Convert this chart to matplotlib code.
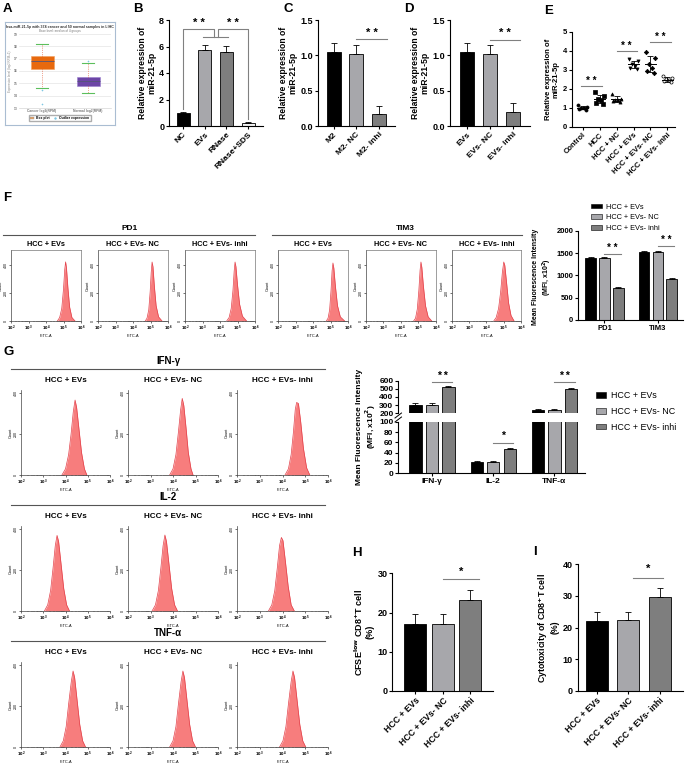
import numpy as np
import matplotlib.pyplot as plt
from matplotlib.lines import Line2D
from matplotlib.patches import Patch

plt.rcParams['font.family'] = ['Liberation Sans', 'DejaVu Sans']
plt.rcParams['font.weight'] = 'bold'
plt.rcParams['axes.labelweight'] = 'bold'
plt.rcParams['mathtext.default'] = 'bf'

# ---------------- data ----------------
# A: box plot of hsa-miR-21-5p (log2 RPM)
a_groups = ['Cancer log2(RPM)', 'Normal log2(RPM)']
a_med = [16.8, 15.2]
a_q1 = [16.2, 14.75]
a_q3 = [17.25, 15.55]
a_low = [14.65, 14.25]
a_high = [18.2, 16.65]
a_fliers = [[14.45, 13.3], [16.8]]

# B
b_labels = ['NC', 'EVs', 'RNase', 'RNase+SDS']
b_values = [1.0, 5.7, 5.6, 0.2]
b_err = [0.08, 0.45, 0.45, 0.08]

# C
c_labels = ['M2', 'M2- NC', 'M2- inhi']
c_values = [1.05, 1.02, 0.17]
c_err = [0.12, 0.12, 0.11]

# D
d_labels = ['EVs', 'EVs- NC', 'EVs- inhi']
d_values = [1.05, 1.02, 0.2]
d_err = [0.12, 0.12, 0.12]

# E
e_labels = ['Control', 'HCC', 'HCC + NC', 'HCC + EVs', 'HCC + EVs- NC', 'HCC + EVs- inhi']
e_control = [1.12, 1.05, 1.0, 0.98, 0.95, 0.9]
e_hcc = [1.8, 1.62, 1.45, 1.38, 1.25, 1.22]
e_hcc_nc = [1.72, 1.48, 1.42, 1.4, 1.36, 1.3]
e_hcc_evs = [3.55, 3.45, 3.3, 3.2, 3.1, 3.05]
e_evs_nc = [3.92, 3.6, 3.3, 3.1, 2.92, 2.85]
e_evs_inhi = [2.65, 2.55, 2.5, 2.45, 2.4, 2.35]

# F / G / H / I shared groups
groups3 = ['HCC + EVs', 'HCC + EVs- NC', 'HCC + EVs- inhi']

# F: flow histograms (log10 FITC-A, count)
pd1_evs = ([4.65, 4.78, 4.90, 5.00, 5.07, 5.12, 5.17, 5.25, 5.35, 5.48, 5.66],
           [0, 25, 90, 230, 370, 425, 380, 240, 100, 25, 0])
pd1_nc = ([4.70, 4.80, 4.90, 4.98, 5.04, 5.09, 5.14, 5.22, 5.32, 5.46, 5.66],
          [0, 20, 80, 210, 350, 424, 390, 250, 110, 30, 0])
pd1_inhi = ([4.38, 4.52, 4.64, 4.74, 4.81, 4.86, 4.91, 5.00, 5.12, 5.28, 5.52],
            [0, 25, 90, 220, 360, 424, 390, 260, 120, 35, 0])
tim3_evs = ([4.76, 4.86, 4.95, 5.03, 5.09, 5.14, 5.19, 5.28, 5.40, 5.56, 5.81],
            [0, 20, 80, 220, 360, 417, 380, 250, 110, 30, 0])
tim3_nc = ([4.72, 4.83, 4.93, 5.02, 5.09, 5.14, 5.19, 5.28, 5.40, 5.55, 5.76],
           [0, 20, 85, 220, 365, 424, 385, 250, 110, 30, 0])
tim3_inhi = ([4.42, 4.56, 4.70, 4.82, 4.92, 5.00, 5.06, 5.16, 5.28, 5.42, 5.60],
             [0, 25, 90, 210, 350, 424, 400, 280, 130, 40, 0])

# F: MFI bars
f_markers = ['PD1', 'TIM3']
f_evs = [1390, 1520]
f_evs_nc = [1380, 1530]
f_evs_inhi = [720, 910]
f_err_evs = [25, 30]
f_err_nc = [25, 25]
f_err_inhi = [30, 25]

# G: flow histograms
ifn_evs = ([3.84, 4.00, 4.14, 4.25, 4.35, 4.43, 4.50, 4.60, 4.72, 4.85, 4.96],
           [0, 30, 100, 200, 310, 367, 330, 230, 110, 30, 0])
ifn_nc = ([3.85, 4.00, 4.13, 4.24, 4.34, 4.41, 4.48, 4.58, 4.68, 4.80, 4.89],
          [0, 30, 100, 210, 320, 375, 340, 230, 110, 30, 0])
ifn_inhi = ([4.11, 4.26, 4.38, 4.48, 4.56, 4.62, 4.70, 4.80, 4.92, 5.06, 5.20],
            [0, 30, 100, 210, 320, 355, 350, 260, 130, 35, 0])
il2_evs = ([3.05, 3.20, 3.33, 3.44, 3.54, 3.62, 3.69, 3.80, 3.92, 4.05, 4.18],
           [0, 30, 100, 210, 320, 370, 340, 230, 110, 30, 0])
il2_nc = ([3.07, 3.22, 3.35, 3.46, 3.56, 3.64, 3.71, 3.82, 3.94, 4.07, 4.20],
          [0, 30, 100, 210, 320, 372, 340, 230, 110, 30, 0])
il2_inhi = ([3.38, 3.53, 3.66, 3.77, 3.87, 3.95, 4.02, 4.13, 4.25, 4.38, 4.52],
            [0, 30, 100, 210, 320, 360, 345, 240, 120, 30, 0])
tnf_evs = ([3.75, 3.90, 4.03, 4.14, 4.26, 4.34, 4.41, 4.52, 4.64, 4.77, 4.90],
           [0, 30, 100, 210, 320, 372, 340, 230, 110, 30, 0])
tnf_nc = ([3.85, 4.00, 4.13, 4.24, 4.36, 4.44, 4.51, 4.62, 4.74, 4.87, 5.00],
          [0, 30, 100, 210, 320, 372, 340, 230, 110, 30, 0])
tnf_inhi = ([3.87, 4.02, 4.15, 4.26, 4.38, 4.46, 4.53, 4.64, 4.76, 4.89, 5.02],
            [0, 30, 100, 210, 320, 372, 340, 230, 110, 30, 0])

# G: MFI bars (broken axis)
g_cytokines = ['IFN-γ', 'IL-2', 'TNF-α']
g_evs = [300, 21, 240]
g_evs_nc = [300, 21, 240]
g_evs_inhi = [520, 47, 495]
g_err_evs = [22, 2.5, 15]
g_err_nc = [22, 2.5, 15]
g_err_inhi = [20, 2.5, 20]

# H / I
h_values = [17.2, 17.2, 23.3]
h_err = [2.5, 2.5, 2.4]
i_values = [22.2, 22.3, 29.7]
i_err = [2.6, 2.6, 2.7]

# ---------------- layout helpers ----------------
W, H = 685, 767
fig = plt.figure(figsize=(W / 100, H / 100), dpi=100)

BLACK, LIGHT, DARK = '#000000', '#a7a7ab', '#7e7e7e'
SIG = '#808080'


def px_axes(x0, y0, x1, y1):
    return fig.add_axes([x0 / W, 1 - y1 / H, (x1 - x0) / W, (y1 - y0) / H])


def px_text(x, y, s, **kw):
    fig.text(x / W, 1 - y / H, s, **kw)


def px_line(x0, x1, y, color='#555555', lw=0.8):
    fig.add_artist(Line2D([x0 / W, x1 / W], [1 - y / H, 1 - y / H], color=color, lw=lw))


def style_axes(ax, ylim, yticks, xlim, fs=6.5):
    for s in ['top', 'right']:
        ax.spines[s].set_visible(False)
    for s in ['left', 'bottom']:
        ax.spines[s].set_linewidth(0.8)
    ax.set_ylim(ylim)
    ax.set_yticks(yticks)
    ax.set_xlim(xlim)
    ax.tick_params(length=2.5, width=0.8, labelsize=fs, pad=1)


def bars(ax, x, vals, errs, colors, width):
    ax.bar(x, vals, width=width, color=colors, edgecolor='black', linewidth=0.6, zorder=2)
    ax.errorbar(x, vals, yerr=[np.zeros(len(vals)), errs], fmt='none', ecolor='black',
                elinewidth=0.6, capsize=2, capthick=0.6, zorder=3)


def sig(ax, x0, x1, y, ty, text, fs=8):
    ax.plot([x0, x1], [y, y], color=SIG, lw=0.8, clip_on=False)
    ax.text((x0 + x1) / 2, ty, text, ha='center', va='center', fontsize=fs, clip_on=False)


def rot_labels(ax, labels, fs=6):
    ax.set_xticks(range(len(labels)))
    ax.set_xticklabels(labels, rotation=45, ha='right', rotation_mode='anchor', fontsize=fs)


def hist_axes(box, data, ymax, framed):
    ax = px_axes(*box)
    xs = 10 ** np.array(data[0])
    ax.fill_between(xs, data[1], color='#f77d7d', lw=0)
    ax.plot(xs, data[1], color='#e3404a', lw=0.5)
    ax.set_xscale('log')
    ax.set_xlim(1e2, 1e6)
    ax.set_ylim(0, ymax)
    ax.set_xticks([1e2, 1e3, 1e4, 1e5, 1e6])
    ax.set_xticklabels(['$10^2$', '$10^3$', '$10^4$', '$10^5$', '$10^6$'])
    ax.set_yticks([0, 200, 400])
    ax.set_yticklabels(['0', '200', '400'], rotation=90, va='center')
    ax.tick_params(labelsize=2.6, length=1.5, width=0.4, pad=0.8)
    ax.tick_params(which='minor', length=0.8, width=0.3)
    for lab in ax.get_xticklabels() + ax.get_yticklabels():
        lab.set_fontweight('normal')
    ax.set_xlabel('FITC-A', fontsize=2.8, labelpad=0.5, fontweight='normal')
    ax.set_ylabel('Count', fontsize=2.8, labelpad=0.5, fontweight='normal')
    for s in ['left', 'bottom']:
        ax.spines[s].set_linewidth(0.5)
        ax.spines[s].set_color('#444444')
    for s in ['top', 'right']:
        ax.spines[s].set_visible(framed)
        ax.spines[s].set_linewidth(0.5)
        ax.spines[s].set_color('#777777')
    return ax


# ---------------- panel letters ----------------
for letter, x, y in [('A', 3, 9), ('B', 133, 9), ('C', 283, 9), ('D', 404, 9), ('E', 544, 11),
                     ('F', 3, 198), ('G', 3, 352), ('H', 352, 553), ('I', 533, 552)]:
    px_text(x, y, letter, fontsize=9.5, fontweight='bold', va='center')

# ---------------- A ----------------
ax_frame = px_axes(5, 22, 115, 125)
ax_frame.set_xticks([])
ax_frame.set_yticks([])
for s in ax_frame.spines.values():
    s.set_color('#aabdd2')
    s.set_linewidth(0.8)
ax_frame.text(0.5, 0.95, 'hsa-miR-21-5p with 374 cancer and 50 normal samples in LIHC',
              ha='center', va='center', fontsize=2.6, color='#333333')
ax_frame.text(0.5, 0.91, 'Base level: median of 4 groups', ha='center', va='center',
              fontsize=2.2, color='#777777', fontweight='normal')
ax_frame.legend(handles=[Patch(facecolor='#e8a060', edgecolor='#999999', lw=0.3),
                         Line2D([], [], marker='+', color='#7ec8e3', ls='none', markersize=2)],
                labels=['Box plot', 'Outlier expression'], loc='lower center',
                bbox_to_anchor=(0.5, 0.02), ncol=2, fontsize=2.4, frameon=True,
                edgecolor='#999999', fancybox=False, handlelength=1, handleheight=0.6,
                columnspacing=1, borderpad=0.4)

ax_a = px_axes(19, 34, 111, 108)
stats = []
for i in range(2):
    stats.append(dict(med=a_med[i], q1=a_q1[i], q3=a_q3[i], whislo=a_low[i],
                      whishi=a_high[i], fliers=a_fliers[i], label=a_groups[i]))
bp = ax_a.bxp(stats, widths=0.5, patch_artist=True,
              boxprops=dict(lw=0.4),
              medianprops=dict(color='#555577', lw=0.6),
              whiskerprops=dict(color='#e0502a', lw=0.5, ls=':'),
              capprops=dict(color='#5cbf5c', lw=0.8),
              flierprops=dict(marker='+', markeredgecolor='#7ec8e3', markersize=2, mew=0.4))
for patch, fc, ec in zip(bp['boxes'], ['#e8690e', '#6c46a6'], ['#f0a060', '#9b7fd0']):
    patch.set_facecolor(fc)
    patch.set_edgecolor(ec)
ax_a.set_ylim(13, 19)
ax_a.set_yticks(range(13, 20))
ax_a.yaxis.grid(True, color='#dddddd', lw=0.4)
ax_a.set_axisbelow(True)
for s in ax_a.spines.values():
    s.set_visible(False)
ax_a.spines['bottom'].set_visible(True)
ax_a.spines['bottom'].set_color('#cccccc')
ax_a.spines['bottom'].set_linewidth(0.4)
ax_a.tick_params(labelsize=2.4, length=0, pad=1, colors='#777777')
ax_a.set_ylabel('Expression level (log2 RPM+1)', fontsize=2.2, color='#888888',
                fontweight='normal', labelpad=1)

# ---------------- B ----------------
ax_b = px_axes(169, 20, 263, 126)
xb = np.arange(len(b_values))
bars(ax_b, xb, b_values, b_err, [BLACK, LIGHT, DARK, '#f2f2f2'], 0.6)
style_axes(ax_b, (0, 8), [0, 2, 4, 6, 8], (-0.65, 3.69))
rot_labels(ax_b, b_labels)
ax_b.set_ylabel('Relative expression of\nmiR-21-5p', fontsize=6.2, labelpad=2, linespacing=1.1)
ax_b.plot([0, 0, 1.45, 1.45], [1.3, 7.3, 7.3, 6.7], color=SIG, lw=0.8)
ax_b.plot([0.92, 2.07], [6.7, 6.7], color=SIG, lw=0.8)
ax_b.plot([1.63, 1.63, 3, 3], [6.7, 7.3, 7.3, 0.5], color=SIG, lw=0.8)
ax_b.text(0.72, 7.75, '* *', ha='center', va='center', fontsize=8)
ax_b.text(2.3, 7.75, '* *', ha='center', va='center', fontsize=8)

# ---------------- C ----------------
ax_c = px_axes(318, 20, 395, 126)
xc = np.arange(len(c_values))
bars(ax_c, xc, c_values, c_err, [BLACK, LIGHT, DARK], 0.62)
style_axes(ax_c, (0, 1.5), [0, 0.5, 1.0, 1.5], (-0.69, 2.7))
ax_c.set_yticklabels(['0.0', '0.5', '1.0', '1.5'])
rot_labels(ax_c, c_labels)
ax_c.set_ylabel('Relative expression of\nmiR-21-5p', fontsize=6.2, labelpad=2, linespacing=1.1)
sig(ax_c, 1.0, 2.33, 1.23, 1.32, '* *')

# ---------------- D ----------------
ax_d = px_axes(450, 20, 530, 126)
xd = np.arange(len(d_values))
bars(ax_d, xd, d_values, d_err, [BLACK, LIGHT, DARK], 0.62)
style_axes(ax_d, (0, 1.5), [0, 0.5, 1.0, 1.5], (-0.72, 2.73))
ax_d.set_yticklabels(['0.0', '0.5', '1.0', '1.5'])
rot_labels(ax_d, d_labels)
ax_d.set_ylabel('Relative expression of\nmiR-21-5p', fontsize=6.2, labelpad=2, linespacing=1.1)
sig(ax_d, 1.0, 2.3, 1.22, 1.31, '* *')

# ---------------- E ----------------
ax_e = px_axes(571.7, 31.7, 675, 126.7)
e_sets = [e_control, e_hcc, e_hcc_nc, e_hcc_evs, e_evs_nc, e_evs_inhi]
e_marks = ['o', 's', '^', 'v', 'D', 'o']
e_offsets = [-0.28, 0.28, -0.1, 0.1, -0.2, 0.2]
for i, (vals, mk) in enumerate(zip(e_sets, e_marks)):
    xs = i + np.array(e_offsets)
    face = 'white' if i == 5 else 'black'
    ax_e.scatter(xs, vals, marker=mk, s=5, facecolor=face, edgecolor='black', lw=0.5, zorder=3)
    m, sd = np.mean(vals), np.std(vals, ddof=1)
    ax_e.plot([i - 0.32, i + 0.32], [m, m], color='black', lw=0.7, zorder=4)
    ax_e.errorbar(i, m, yerr=sd, fmt='none', ecolor='black', elinewidth=0.6, capsize=2,
                  capthick=0.6, zorder=4)
style_axes(ax_e, (0, 5), [0, 1, 2, 3, 4, 5], (-0.65, 5.45), fs=5.5)
rot_labels(ax_e, e_labels, fs=5.5)
ax_e.set_ylabel('Relative expression of\nmiR-21-5p', fontsize=5.5, labelpad=2, linespacing=1.1)
sig(ax_e, -0.1, 1.15, 2.15, 2.42, '* *', fs=7)
sig(ax_e, 2.0, 3.2, 4.0, 4.25, '* *', fs=7)
sig(ax_e, 4.0, 5.2, 4.45, 4.7, '* *', fs=7)

# ---------------- F histograms ----------------
px_text(130, 228, 'PD1', fontsize=6, ha='center', va='center')
px_text(405, 228, 'TIM3', fontsize=6, ha='center', va='center')
px_line(3, 255, 235)
px_line(272, 522, 235)
f_boxes = [(11, 81), (98, 168), (185, 255), (278, 348), (366, 436), (452, 521)]
f_hists = [pd1_evs, pd1_nc, pd1_inhi, tim3_evs, tim3_nc, tim3_inhi]
for (x0, x1), hdata, title in zip(f_boxes, f_hists, groups3 * 2):
    hist_axes((x0, 250, x1, 321), hdata, 510, True)
    px_text((x0 + x1) / 2, 244, title, fontsize=5.3, ha='center', va='center')

# ---------------- F bars ----------------
ax_f = px_axes(578.3, 230.7, 683, 320)
xf = np.arange(len(f_markers))
bars(ax_f, xf - 0.26, f_evs, f_err_evs, BLACK, 0.2)
bars(ax_f, xf, f_evs_nc, f_err_nc, LIGHT, 0.2)
bars(ax_f, xf + 0.26, f_evs_inhi, f_err_inhi, DARK, 0.2)
style_axes(ax_f, (0, 2000), [0, 500, 1000, 1500, 2000], (-0.49, 1.47), fs=5.5)
ax_f.set_xticks(xf)
ax_f.set_xticklabels(f_markers, fontsize=5.5)
sig(ax_f, 0.0, 0.3, 1480, 1620, '* *', fs=7)
sig(ax_f, 1.0, 1.3, 1650, 1790, '* *', fs=7)
px_text(543, 277, 'Mean Fluorescence Intensity\n(MFI, x10$^2$)', fontsize=5.0, rotation=90,
        ha='center', va='center', linespacing=1.1)
fig.legend(handles=[Patch(facecolor=c, edgecolor='black', lw=0.4) for c in [BLACK, LIGHT, DARK]],
           labels=groups3, loc='upper left', bbox_to_anchor=(587 / W, 1 - 200 / H),
           frameon=False, handlelength=1.5, handleheight=0.6,
           labelspacing=0.5, handletextpad=0.6, borderpad=0, prop={'weight': 'normal', 'size': 5.3})

# ---------------- G histograms ----------------
g_rows = [('IFN-γ', 361, [ifn_evs, ifn_nc, ifn_inhi]),
          ('IL-2', 497, [il2_evs, il2_nc, il2_inhi]),
          ('TNF-α', 633, [tnf_evs, tnf_nc, tnf_inhi])]
g_boxes = [(21, 110), (128, 218), (237, 328)]
for name, y0, hists in g_rows:
    px_text(168, y0, name, fontsize=7, ha='center', va='center')
    px_line(11, 325, y0 + 7.5)
    for (x0, x1), hdata, title in zip(g_boxes, hists, groups3):
        hist_axes((x0, y0 + 29, x1, y0 + 114), hdata, 416, False)
        px_text((x0 + x1) / 2, y0 + 19, title, fontsize=5.8, ha='center', va='center')

# ---------------- G bars (broken axis) ----------------
ax_gu = px_axes(398.3, 380.7, 585, 413.3)
ax_gl = px_axes(398.3, 421.7, 585, 473.3)
xg = np.arange(len(g_cytokines))
for ax in (ax_gu, ax_gl):
    bars(ax, xg - 0.27, g_evs, g_err_evs, BLACK, 0.2)
    bars(ax, xg, g_evs_nc, g_err_nc, LIGHT, 0.2)
    bars(ax, xg + 0.27, g_evs_inhi, g_err_inhi, DARK, 0.2)
style_axes(ax_gu, (200, 600), [200, 300, 400, 500, 600], (-0.55, 2.5), fs=6)
style_axes(ax_gl, (0, 100), [0, 20, 40, 60, 80, 100], (-0.55, 2.5), fs=6)
ax_gu.spines['bottom'].set_visible(False)
ax_gu.set_xticks([])
ax_gl.set_xticks(xg)
ax_gl.set_xticklabels(g_cytokines, fontsize=6)
sig(ax_gu, 0.0, 0.33, 585, 660, '* *', fs=7.5)
sig(ax_gu, 2.0, 2.33, 585, 660, '* *', fs=7.5)
sig(ax_gl, 1.0, 1.33, 58, 72, '*', fs=7.5)
for yb in (415.5, 419.5):
    fig.add_artist(Line2D([395 / W, 401.5 / W], [1 - (yb + 2.5) / H, 1 - (yb - 2.5) / H],
                          color='black', lw=0.7))
px_text(367, 427, 'Mean Fluorescence Intensity\n(MFI, x10$^2$)', fontsize=6, rotation=90,
        ha='center', va='center', linespacing=1.1)
fig.legend(handles=[Patch(facecolor=c, edgecolor='black', lw=0.4) for c in [BLACK, LIGHT, DARK]],
           labels=groups3, loc='upper left', bbox_to_anchor=(592 / W, 1 - 387 / H),
           frameon=False, handlelength=1.1, handleheight=0.6,
           labelspacing=0.75, handletextpad=0.5, borderpad=0, prop={'weight': 'normal', 'size': 6.4})

# ---------------- H ----------------
ax_h = px_axes(392.3, 573.3, 493, 691)
xh = np.arange(3)
bars(ax_h, xh, h_values, h_err, [BLACK, LIGHT, DARK], 0.8)
style_axes(ax_h, (0, 30), [0, 10, 20, 30], (-0.83, 2.82))
rot_labels(ax_h, groups3, fs=6.3)
ax_h.set_ylabel('CFSE$^{low}$ CD8$^{+}$T cell\n(%)', fontsize=6.5, labelpad=2, linespacing=1.1)
sig(ax_h, 1.0, 2.3, 28.5, 30.4, '*', fs=8)

# ---------------- I ----------------
ax_i = px_axes(577.7, 564.3, 683, 691)
xi = np.arange(3)
bars(ax_i, xi, i_values, i_err, [BLACK, LIGHT, DARK], 0.7)
style_axes(ax_i, (0, 40), [0, 10, 20, 30, 40], (-0.6, 2.74))
rot_labels(ax_i, groups3, fs=6.3)
ax_i.set_ylabel('Cytotoxicity of CD8$^{+}$T cell\n(%)', fontsize=6.3, labelpad=2, linespacing=1.1)
sig(ax_i, 1.15, 2.1, 35.8, 38.5, '*', fs=8)

fig.savefig('out.png', dpi=100)
